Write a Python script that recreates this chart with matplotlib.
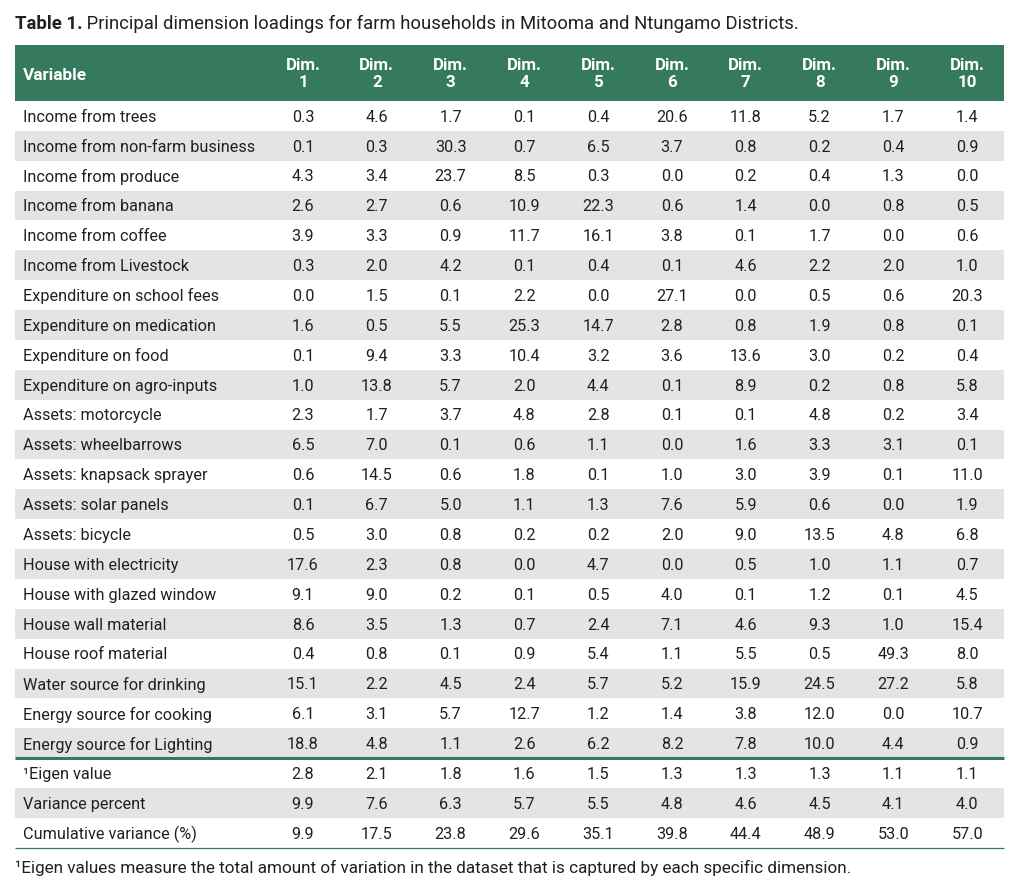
import matplotlib
matplotlib.use('Agg')
from matplotlib import pyplot as plt
from matplotlib.patches import Rectangle

plt.rcParams['font.family'] = ['Roboto', 'DejaVu Sans']

title_bold = 'Table 1.'
title_rest = ' Principal dimension loadings for farm households in Mitooma and Ntungamo Districts.'
footnote = '¹Eigen values measure the total amount of variation in the dataset that is captured by each specific dimension.'

dims = ['Dim.\n%d' % i for i in range(1, 11)]

variables = [
    'Income from trees', 'Income from non-farm business', 'Income from produce',
    'Income from banana', 'Income from coffee', 'Income from Livestock',
    'Expenditure on school fees', 'Expenditure on medication', 'Expenditure on food',
    'Expenditure on agro-inputs', 'Assets: motorcycle', 'Assets: wheelbarrows',
    'Assets: knapsack sprayer', 'Assets: solar panels', 'Assets: bicycle',
    'House with electricity', 'House with glazed window', 'House wall material',
    'House roof material', 'Water source for drinking', 'Energy source for cooking',
    'Energy source for Lighting',
]

loadings = [
    [0.3, 4.6, 1.7, 0.1, 0.4, 20.6, 11.8, 5.2, 1.7, 1.4],
    [0.1, 0.3, 30.3, 0.7, 6.5, 3.7, 0.8, 0.2, 0.4, 0.9],
    [4.3, 3.4, 23.7, 8.5, 0.3, 0.0, 0.2, 0.4, 1.3, 0.0],
    [2.6, 2.7, 0.6, 10.9, 22.3, 0.6, 1.4, 0.0, 0.8, 0.5],
    [3.9, 3.3, 0.9, 11.7, 16.1, 3.8, 0.1, 1.7, 0.0, 0.6],
    [0.3, 2.0, 4.2, 0.1, 0.4, 0.1, 4.6, 2.2, 2.0, 1.0],
    [0.0, 1.5, 0.1, 2.2, 0.0, 27.1, 0.0, 0.5, 0.6, 20.3],
    [1.6, 0.5, 5.5, 25.3, 14.7, 2.8, 0.8, 1.9, 0.8, 0.1],
    [0.1, 9.4, 3.3, 10.4, 3.2, 3.6, 13.6, 3.0, 0.2, 0.4],
    [1.0, 13.8, 5.7, 2.0, 4.4, 0.1, 8.9, 0.2, 0.8, 5.8],
    [2.3, 1.7, 3.7, 4.8, 2.8, 0.1, 0.1, 4.8, 0.2, 3.4],
    [6.5, 7.0, 0.1, 0.6, 1.1, 0.0, 1.6, 3.3, 3.1, 0.1],
    [0.6, 14.5, 0.6, 1.8, 0.1, 1.0, 3.0, 3.9, 0.1, 11.0],
    [0.1, 6.7, 5.0, 1.1, 1.3, 7.6, 5.9, 0.6, 0.0, 1.9],
    [0.5, 3.0, 0.8, 0.2, 0.2, 2.0, 9.0, 13.5, 4.8, 6.8],
    [17.6, 2.3, 0.8, 0.0, 4.7, 0.0, 0.5, 1.0, 1.1, 0.7],
    [9.1, 9.0, 0.2, 0.1, 0.5, 4.0, 0.1, 1.2, 0.1, 4.5],
    [8.6, 3.5, 1.3, 0.7, 2.4, 7.1, 4.6, 9.3, 1.0, 15.4],
    [0.4, 0.8, 0.1, 0.9, 5.4, 1.1, 5.5, 0.5, 49.3, 8.0],
    [15.1, 2.2, 4.5, 2.4, 5.7, 5.2, 15.9, 24.5, 27.2, 5.8],
    [6.1, 3.1, 5.7, 12.7, 1.2, 1.4, 3.8, 12.0, 0.0, 10.7],
    [18.8, 4.8, 1.1, 2.6, 6.2, 8.2, 7.8, 10.0, 4.4, 0.9],
]

summary_labels = ['¹Eigen value', 'Variance percent', 'Cumulative variance (%)']
eigen_value = [2.8, 2.1, 1.8, 1.6, 1.5, 1.3, 1.3, 1.3, 1.1, 1.1]
variance_percent = [9.9, 7.6, 6.3, 5.7, 5.5, 4.8, 4.6, 4.5, 4.1, 4.0]
cumulative_variance = [9.9, 17.5, 23.8, 29.6, 35.1, 39.8, 44.4, 48.9, 53.0, 57.0]

# colours / geometry (pixels)
GREEN = '#357a5e'
GRAY = '#e3e4e5'
INK = '#231f20'
LEFT, RIGHT = 15, 1004
HEAD_TOP, HEAD_BOT = 45, 101
ROW_H = 29.87
COL0, COL_STEP = 303, 73.8
FS = 11.7

fig = plt.figure(figsize=(10.24, 8.86), dpi=100)
ax = fig.add_axes([0, 0, 1, 1])
ax.set_xlim(0, 1024)
ax.set_ylim(886, 0)
ax.axis('off')

# title
t1 = ax.text(LEFT, 24, title_bold, fontsize=13.3, fontweight='bold', color=INK, va='center')
ax.annotate(title_rest, xy=(1, 0), xycoords=t1, fontsize=13.3, color=INK, va='bottom')

# header
ax.add_patch(Rectangle((LEFT, HEAD_TOP), RIGHT - LEFT, HEAD_BOT - HEAD_TOP, color=GREEN, lw=0))
ax.text(23, (HEAD_TOP + HEAD_BOT) / 2 + 2, 'Variable', color='white', fontweight='bold',
        fontsize=12.4, va='center')
for j, d in enumerate(dims):
    ax.text(COL0 + j * COL_STEP, (HEAD_TOP + HEAD_BOT) / 2 + 1, d, color='white',
            fontweight='bold', fontsize=12.2, va='center', ha='center', linespacing=1.2)

rows = [(v, vals) for v, vals in zip(variables, loadings)]
rows += list(zip(summary_labels, [eigen_value, variance_percent, cumulative_variance]))

n_data = len(variables)
for i, (label, vals) in enumerate(rows):
    k = i if i < n_data else i - n_data
    top = HEAD_BOT + i * ROW_H
    if k % 2 == 1:
        ax.add_patch(Rectangle((LEFT, top), RIGHT - LEFT, ROW_H, color=GRAY, lw=0))
    yc = top + ROW_H / 2 + 1.3
    ax.text(23, yc, label, color=INK, fontsize=FS, va='center')
    for j, v in enumerate(vals):
        ax.text(COL0 + j * COL_STEP, yc, '%.1f' % v, color=INK, fontsize=FS,
                va='center', ha='center')

# rules
y_sep = HEAD_BOT + n_data * ROW_H
ax.plot([LEFT, RIGHT], [y_sep, y_sep], color=GREEN, lw=2.2, solid_capstyle='butt')
y_end = HEAD_BOT + len(rows) * ROW_H + 0.5
ax.plot([LEFT, RIGHT], [y_end, y_end], color=GREEN, lw=0.9, solid_capstyle='butt')

ax.text(LEFT, 868, footnote, color=INK, fontsize=12.3, va='center')

fig.savefig('out.png', dpi=100)
